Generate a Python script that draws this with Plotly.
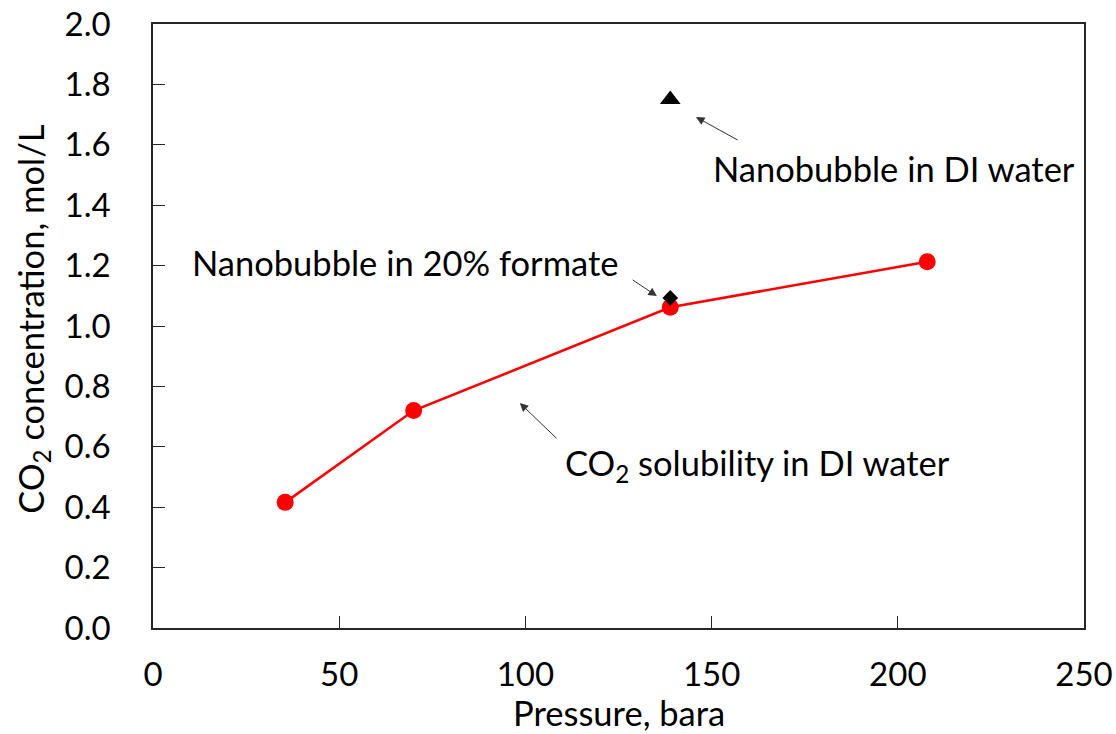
import plotly.graph_objects as go

# CO2 solubility in DI water (red line with circles)
pressure_bara = [35.5, 70.0, 138.9, 207.9]
solubility_mol_l = [0.416, 0.72, 1.062, 1.213]

# Nanobubble measurements
nb_di_pressure = [138.9]
nb_di_conc = [1.75]
nb_formate_pressure = [138.9]
nb_formate_conc = [1.093]

x_ticks = [0, 50, 100, 150, 200, 250]
y_ticks = [0.0, 0.2, 0.4, 0.6, 0.8, 1.0, 1.2, 1.4, 1.6, 1.8, 2.0]

FONT = "Lato"
FS_TICK = 33
FS_TEXT = 34.5

fig = go.Figure()
fig.add_trace(go.Scatter(
    x=pressure_bara, y=solubility_mol_l, mode="lines+markers",
    line=dict(color="#FF0000", width=2.5),
    marker=dict(color="#FF0000", size=17, symbol="circle"),
    showlegend=False, cliponaxis=False,
))
fig.add_trace(go.Scatter(
    x=nb_di_pressure, y=nb_di_conc, mode="markers",
    marker=dict(color="black", size=18, symbol="triangle-up"),
    showlegend=False,
))
fig.add_trace(go.Scatter(
    x=nb_formate_pressure, y=nb_formate_conc, mode="markers",
    marker=dict(color="black", size=12, symbol="diamond"),
    showlegend=False,
))

arrow = dict(showarrow=True, arrowhead=2, arrowsize=1.7, arrowwidth=1,
             arrowcolor="#333333", xref="x", yref="y", axref="x", ayref="y",
             text="", standoff=0, startstandoff=0)
fig.add_annotation(x=145.8, y=1.692, ax=157.4, ay=1.613, **arrow)
fig.add_annotation(x=135.3, y=1.099, ax=128.4, ay=1.156, **arrow)
fig.add_annotation(x=98.5, y=0.745, ax=108.8, ay=0.623, **arrow)

label = dict(showarrow=False, xref="x", yref="y", xanchor="left", yanchor="middle",
             font=dict(family=FONT, size=FS_TEXT, color="black"))
fig.add_annotation(x=149.8, y=1.52, text="Nanobubble in DI water", **label)
fig.add_annotation(x=9.9, y=1.209, text="Nanobubble in 20% formate", **label)
fig.add_annotation(x=110.1, y=0.54, text="CO<sub>2</sub> solubility in DI water", **label)

# axis titles placed as annotations for exact positioning
fig.add_annotation(x=0.5, y=-0.175, xref="paper", yref="paper",
                   xanchor="center", yanchor="bottom", showarrow=False,
                   text="Pressure, bara", borderpad=0,
                   font=dict(family=FONT, size=FS_TEXT, color="black"))
fig.add_annotation(x=-0.129, y=0.512, xref="paper", yref="paper",
                   xanchor="center", yanchor="middle", showarrow=False,
                   textangle=-90, borderpad=0,
                   text="CO<sub>2</sub> concentration, mol/L",
                   font=dict(family=FONT, size=FS_TEXT, color="black"))

axis_common = dict(
    showline=True, linecolor="#262626", linewidth=1.5, mirror=True,
    ticks="inside", ticklen=12, tickwidth=1.3, tickcolor="#262626",
    showgrid=False, zeroline=False, automargin=False,
    tickfont=dict(family=FONT, size=FS_TICK, color="black"),
)

fig.update_xaxes(
    range=[0, 250], tickvals=x_ticks, ticktext=[str(v) for v in x_ticks],
    ticklabelstandoff=17,
    **axis_common,
)
fig.update_yaxes(
    range=[0, 2.0], tickvals=y_ticks, ticktext=[f"{v:.1f}" for v in y_ticks],
    ticklabelstandoff=34,
    **axis_common,
)

fig.update_layout(
    width=1116, height=734,
    margin=dict(l=153, r=32, t=24, b=106),
    paper_bgcolor="white", plot_bgcolor="white",
    font=dict(family=FONT, size=FS_TICK, color="black"),
)

fig.write_html("out.html")
